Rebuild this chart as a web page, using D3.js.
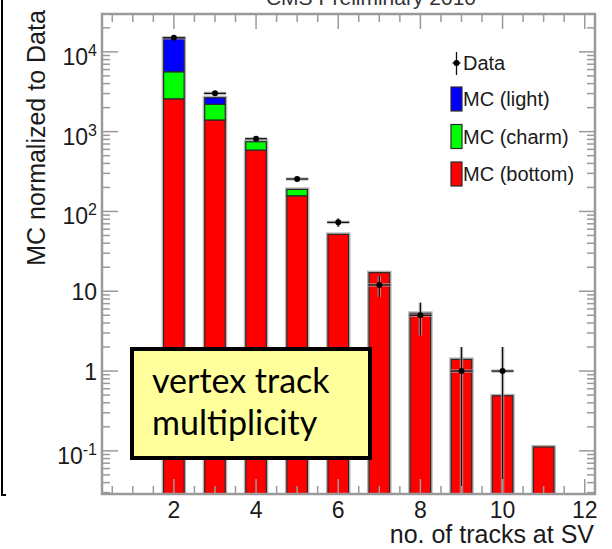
<!DOCTYPE html>
<html>
<head>
<meta charset="utf-8">
<script src="https://cdn.jsdelivr.net/npm/d3@7/dist/d3.min.js"></script>
<style>
    body { margin: 0; background: #fff; }
    svg { display: block; }
</style>
</head>
<body>
<div id="chartContainer"></div>
<script>
// Values
var nTracks = [2, 3, 4, 5, 6, 7, 8, 9, 10, 11];
var mcBottom = [2580, 1400, 588, 157, 51.6, 17.1, 5.29, 1.40, 0.49, 0.112];
var mcCharm = [3050, 800, 159, 32, 0, 0, 0, 0, 0, 0];
var mcLight = [9070, 460, 0, 0, 0, 0, 0, 0, 0, 0];

var dataX = [2, 3, 4, 5, 6, 7, 8, 9, 10];
var dataY = [15000, 3020, 815, 255, 73, 12, 5, 1, 1];
var dataErr = [122, 55, 28.5, 16, 8.5, 3.5, 2.2, 1, 1];

var xTickValues = [2, 4, 6, 8, 10, 12];
var yTickLabels = [
    { v: 1e4, base: '10', exp: '4' },
    { v: 1e3, base: '10', exp: '3' },
    { v: 1e2, base: '10', exp: '2' },
    { v: 10, base: '10', exp: '' },
    { v: 1, base: '1', exp: '' },
    { v: 0.1, base: '10', exp: '-1' }
];

var legendNames = ['MC (light)', 'MC (charm)', 'MC (bottom)'];
var legendColors = ['#0000ff', '#00ff00', '#ff0000'];

var width = 612;
var height = 549;

var plotLeft = 102;
var plotRight = 595;
var plotTop = 14;
var plotBottom = 494;

var barHalfWidth = 0.25;
var dataHalfWidth = 0.27;

var frameColor = '#9a9a9a';
var labelFont = '"Liberation Sans", Arial, sans-serif';

var x = d3.scaleLinear().domain([0.25, 12.25]).range([plotLeft, plotRight]);
var y = d3.scaleLog().domain([0.0288, 29800]).range([plotBottom, plotTop]);

function yClamp(v) {
    if (v <= y.domain()[0]) {
        return plotBottom;
    }
    return y(v);
}

var svg = d3.select('#chartContainer').append('svg')
    .attr('width', width)
    .attr('height', height);

svg.append('defs').append('clipPath').attr('id', 'plotClip')
    .append('rect')
    .attr('x', plotLeft)
    .attr('y', plotTop)
    .attr('width', plotRight - plotLeft)
    .attr('height', plotBottom - plotTop);

// slide border on the left
svg.append('path')
    .attr('d', 'M2,0V495H6')
    .attr('fill', 'none')
    .attr('stroke', '#000')
    .attr('stroke-width', 2);

// title, cut off by the top of the picture as in the original
svg.append('text')
    .attr('x', 371)
    .attr('y', 5)
    .attr('text-anchor', 'middle')
    .attr('font-family', labelFont)
    .attr('font-size', '21px')
    .attr('fill', '#333')
    .text('CMS Preliminary 2010');

// Stacked bars
function addBars() {
    var stackData = nTracks.map(function (n, i) {
        return { n: n, bottom: mcBottom[i], charm: mcCharm[i], light: mcLight[i] };
    });
    var stack = d3.stack().keys(['bottom', 'charm', 'light']);
    var series = stack(stackData);
    var colors = { bottom: '#ff0000', charm: '#00ff00', light: '#0000ff' };

    var barGroup = svg.append('g').attr('clip-path', 'url(#plotClip)');

    // grey halo round each full bar
    barGroup.selectAll('.halo')
        .data(stackData)
        .enter()
        .append('rect')
        .attr('class', 'halo')
        .attr('x', function (d) { return x(d.n - barHalfWidth); })
        .attr('width', function (d) { return x(d.n + barHalfWidth) - x(d.n - barHalfWidth); })
        .attr('y', function (d) { return y(d.bottom + d.charm + d.light); })
        .attr('height', function (d) { return plotBottom + 5 - y(d.bottom + d.charm + d.light); })
        .attr('fill', 'none')
        .attr('stroke', '#b5b5b5')
        .attr('stroke-width', 4);

    series.forEach(function (s) {
        barGroup.selectAll('.seg-' + s.key)
            .data(s.filter(function (d) { return d[1] > d[0]; }))
            .enter()
            .append('rect')
            .attr('x', function (d) { return x(d.data.n - barHalfWidth); })
            .attr('width', function (d) { return x(d.data.n + barHalfWidth) - x(d.data.n - barHalfWidth); })
            .attr('y', function (d) { return y(d[1]); })
            .attr('height', function (d) {
                var bottom = d[0] > 0 ? y(d[0]) : plotBottom + 5;
                return bottom - y(d[1]);
            })
            .attr('fill', colors[s.key])
            .attr('stroke', '#2a2a2a')
            .attr('stroke-width', 1.2);
    });
}

// Data points with error bars
function addDataPoints() {
    var points = dataX.map(function (n, i) {
        return { n: n, v: dataY[i], e: dataErr[i] };
    });
    var g = svg.append('g').attr('clip-path', 'url(#plotClip)');

    var halo = g.append('g')
        .attr('stroke', '#b0b0b0')
        .attr('stroke-width', 3.5)
        .attr('opacity', 0.7);
    var lines = g.append('g')
        .attr('stroke', '#111')
        .attr('stroke-width', 1.3);

    [halo, lines].forEach(function (sel) {
        sel.selectAll('.vbar')
            .data(points)
            .enter()
            .append('line')
            .attr('x1', function (d) { return x(d.n); })
            .attr('x2', function (d) { return x(d.n); })
            .attr('y1', function (d) { return yClamp(d.v - d.e); })
            .attr('y2', function (d) { return y(d.v + d.e); });
        sel.selectAll('.hbar')
            .data(points)
            .enter()
            .append('line')
            .attr('x1', function (d) { return x(d.n - dataHalfWidth); })
            .attr('x2', function (d) { return x(d.n + dataHalfWidth); })
            .attr('y1', function (d) { return y(d.v); })
            .attr('y2', function (d) { return y(d.v); });
    });

    g.selectAll('.marker')
        .data(points)
        .enter()
        .append('circle')
        .attr('cx', function (d) { return x(d.n); })
        .attr('cy', function (d) { return y(d.v); })
        .attr('r', 3)
        .attr('fill', '#000');
}

// Frame, ticks and labels
function addFrame() {
    var axes = svg.append('g')
        .attr('stroke', frameColor)
        .attr('fill', 'none');

    axes.append('rect')
        .attr('x', plotLeft)
        .attr('y', plotTop)
        .attr('width', plotRight - plotLeft)
        .attr('height', plotBottom - plotTop)
        .attr('stroke-width', 2.5);

    var xMinor = d3.range(0.5, 12.01, 0.5);
    xMinor.forEach(function (v) {
        var len = (v % 2 === 0) ? 15 : 8;
        axes.append('line')
            .attr('x1', x(v)).attr('x2', x(v))
            .attr('y1', plotBottom).attr('y2', plotBottom - len)
            .attr('stroke-width', 1.5);
        axes.append('line')
            .attr('x1', x(v)).attr('x2', x(v))
            .attr('y1', plotTop).attr('y2', plotTop + len)
            .attr('stroke-width', 1.5);
    });

    var yTicks = [];
    d3.range(-2, 5).forEach(function (p) {
        for (var m = 1; m <= 9; m++) {
            var v = m * Math.pow(10, p);
            if (v >= y.domain()[0] && v <= y.domain()[1]) {
                yTicks.push({ v: v, major: m === 1 });
            }
        }
    });
    yTicks.forEach(function (t) {
        var len = t.major ? 16 : 8;
        axes.append('line')
            .attr('x1', plotLeft).attr('x2', plotLeft + len)
            .attr('y1', y(t.v)).attr('y2', y(t.v))
            .attr('stroke-width', 1.5);
        axes.append('line')
            .attr('x1', plotRight).attr('x2', plotRight - len)
            .attr('y1', y(t.v)).attr('y2', y(t.v))
            .attr('stroke-width', 1.5);
    });

    // x tick labels
    svg.append('g').selectAll('text')
        .data(xTickValues)
        .enter()
        .append('text')
        .attr('x', function (d) { return x(d); })
        .attr('y', 518)
        .attr('text-anchor', 'middle')
        .attr('font-family', labelFont)
        .attr('font-size', '23px')
        .attr('fill', '#1a1a1a')
        .text(function (d) { return d; });

    // y tick labels with superscript powers
    var yLabels = svg.append('g').selectAll('text')
        .data(yTickLabels)
        .enter()
        .append('text')
        .attr('x', 97)
        .attr('y', function (d) { return y(d.v) + (d.exp ? 13 : 8.5); })
        .attr('text-anchor', 'end')
        .attr('font-family', labelFont)
        .attr('font-size', '23px')
        .attr('fill', '#1a1a1a');
    yLabels.append('tspan').text(function (d) { return d.base; });
    yLabels.append('tspan')
        .attr('font-size', '16px')
        .attr('dy', function (d) { return d.exp ? -9 : 0; })
        .text(function (d) { return d.exp; });

    svg.append('text')
        .attr('transform', 'translate(45,138) rotate(-90)')
        .attr('text-anchor', 'middle')
        .attr('font-family', labelFont)
        .attr('font-size', '25px')
        .attr('fill', '#1a1a1a')
        .text('MC normalized to Data');

    svg.append('text')
        .attr('x', 594)
        .attr('y', 543)
        .attr('text-anchor', 'end')
        .attr('font-family', labelFont)
        .attr('font-size', '25px')
        .attr('fill', '#1a1a1a')
        .text('no. of tracks at SV');
}

function addLegend() {
    var legend = svg.append('g');
    var textX = 463;
    var markX = 456.5;

    // Data entry
    legend.append('line')
        .attr('x1', markX).attr('x2', markX)
        .attr('y1', 52).attr('y2', 75)
        .attr('stroke', '#111').attr('stroke-width', 1.3);
    legend.append('line')
        .attr('x1', markX - 4).attr('x2', markX + 4)
        .attr('y1', 63).attr('y2', 63)
        .attr('stroke', '#111').attr('stroke-width', 1.3);
    legend.append('circle')
        .attr('cx', markX).attr('cy', 63).attr('r', 3)
        .attr('fill', '#000');
    legend.append('text')
        .attr('x', textX).attr('y', 70)
        .attr('font-family', labelFont)
        .attr('font-size', '20px')
        .attr('fill', '#1a1a1a')
        .text('Data');

    var rows = legend.selectAll('.entry')
        .data(legendNames)
        .enter()
        .append('g')
        .attr('transform', function (d, i) { return 'translate(0,' + (99 + i * 37.5) + ')'; });
    rows.append('rect')
        .attr('x', 451).attr('y', -12)
        .attr('width', 11).attr('height', 24)
        .attr('fill', function (d, i) { return legendColors[i]; })
        .attr('stroke', '#2a2a2a')
        .attr('stroke-width', 1.2);
    rows.append('text')
        .attr('x', textX).attr('y', 7)
        .attr('font-family', labelFont)
        .attr('font-size', '20px')
        .attr('fill', '#1a1a1a')
        .text(function (d) { return d; });
}

function addNoteBox() {
    var note = svg.append('g');
    note.append('rect')
        .attr('x', 132)
        .attr('y', 349)
        .attr('width', 238)
        .attr('height', 109)
        .attr('fill', '#ffff9c')
        .attr('stroke', '#000')
        .attr('stroke-width', 4);
    note.append('text')
        .attr('x', 152).attr('y', 393)
        .attr('font-family', 'Lato, "Open Sans", sans-serif')
        .attr('font-size', '34px')
        .attr('fill', '#000')
        .text('vertex track');
    note.append('text')
        .attr('x', 152).attr('y', 435)
        .attr('font-family', 'Lato, "Open Sans", sans-serif')
        .attr('font-size', '34px')
        .attr('fill', '#000')
        .text('multiplicity');
}

addBars();
addDataPoints();
addFrame();
addLegend();
addNoteBox();
</script>
</body>
</html>
